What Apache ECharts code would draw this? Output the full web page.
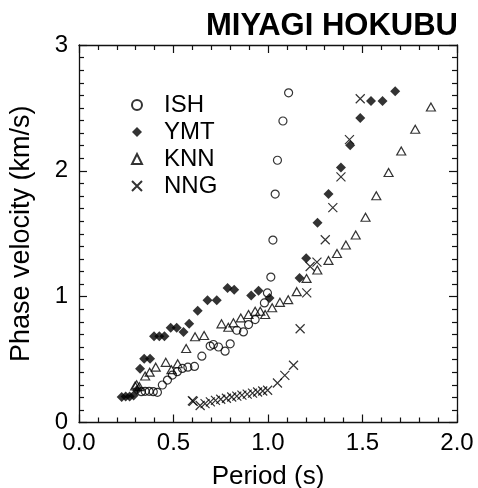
<!DOCTYPE html>
<html>
<head>
<meta charset="utf-8">
<script src="https://cdn.jsdelivr.net/npm/echarts@6/dist/echarts.min.js"></script>
<style>
  html, body { margin: 0; padding: 0; background: #fff; }
  #chart { width: 478px; height: 488px; }
</style>
</head>
<body>
<div id="chart"></div>
<script>
// Phase velocity dispersion curves, [period (s), velocity (km/s)]
const ISH = [
  [0.330,0.245],[0.350,0.248],[0.371,0.248],[0.393,0.245],[0.415,0.240],
  [0.441,0.298],[0.468,0.337],[0.494,0.377],[0.520,0.404],[0.547,0.430],
  [0.576,0.440],[0.611,0.446],[0.650,0.527],[0.694,0.607],[0.711,0.620],
  [0.738,0.600],[0.773,0.567],[0.800,0.625],[0.835,0.733],[0.870,0.720],
  [0.897,0.778],[0.932,0.818],[0.981,0.950],[0.997,1.030],[1.015,1.156],
  [1.026,1.450],[1.038,1.815],[1.050,2.084],[1.079,2.396],[1.109,2.620]
];
const YMT = [
  [0.226,0.203],[0.247,0.206],[0.268,0.206],[0.289,0.215],[0.307,0.258],
  [0.323,0.427],[0.345,0.507],[0.376,0.507],[0.397,0.686],[0.425,0.686],
  [0.452,0.686],[0.485,0.752],[0.517,0.752],[0.553,0.720],[0.583,0.784],
  [0.628,0.889],[0.680,0.971],[0.729,0.971],[0.786,1.069],[0.821,1.055],
  [0.911,1.010],[0.950,1.047],[1.008,0.990],[1.167,1.148],[1.202,1.306],
  [1.262,1.588],[1.320,1.815],[1.386,2.026],[1.435,2.203],[1.488,2.420],
  [1.545,2.554],[1.606,2.554],[1.673,2.633]
];
const KNN = [
  [0.297,0.290],[0.305,0.300],[0.320,0.285],[0.350,0.370],[0.374,0.400],
  [0.406,0.440],[0.459,0.478],[0.489,0.420],[0.522,0.467],[0.567,0.588],
  [0.614,0.681],[0.662,0.691],[0.754,0.784],[0.790,0.757],[0.817,0.792],
  [0.856,0.831],[0.897,0.858],[0.932,0.884],[0.959,0.884],[0.985,0.858],
  [1.022,0.912],[1.063,0.955],[1.107,0.976],[1.152,1.040],[1.204,1.145],
  [1.261,1.212],[1.320,1.288],[1.365,1.343],[1.412,1.411],[1.464,1.490],
  [1.516,1.631],[1.573,1.802],[1.638,1.987],[1.705,2.158],[1.779,2.330],
  [1.862,2.507]
];
const NNG = [
  [0.600,0.173],[0.605,0.168],[0.641,0.135],[0.667,0.150],[0.695,0.164],
  [0.722,0.176],[0.750,0.185],[0.780,0.193],[0.808,0.203],[0.835,0.210],
  [0.862,0.218],[0.890,0.226],[0.918,0.234],[0.945,0.242],[0.972,0.250],
  [0.998,0.256],[1.050,0.314],[1.089,0.375],[1.135,0.455],[1.170,0.745],
  [1.205,1.030],[1.223,1.240],[1.259,1.275],[1.303,1.452],[1.343,1.708],
  [1.386,1.952],[1.431,2.248],[1.488,2.573]
];
const xTicks = { min: 0, max: 2, step: 0.5 };
const yTicks = { min: 0, max: 3, step: 1 };

const FONT = 'Liberation Sans, Arial, sans-serif';
const INK = '#000';

function frameAxis(range, pos, showLabel, minorSplit, extra) {
  return Object.assign({
    type: 'value',
    position: pos,
    min: range.min, max: range.max, interval: range.step,
    axisLine: { show: true, onZero: false, lineStyle: { color: '#111', width: 1.3 } },
    axisTick: { show: true, inside: true, length: 8, lineStyle: { color: '#111', width: 1.2 } },
    minorTick: { show: true, splitNumber: minorSplit, length: 5, lineStyle: { color: '#111', width: 1.2 } },
    splitLine: { show: false },
    minorSplitLine: { show: false },
    axisLabel: { show: showLabel, color: INK, fontFamily: FONT, fontSize: 24 }
  }, extra || {});
}

const chart = echarts.init(document.getElementById('chart'), null, { renderer: 'canvas' });

const open = { color: 'rgba(0,0,0,0)', borderColor: INK, borderWidth: 1.2 };

chart.setOption({
  animation: false,
  backgroundColor: '#fff',
  title: {
    text: 'MIYAGI HOKUBU',
    right: 20, top: 11, padding: 0,
    textStyle: { fontFamily: FONT, fontSize: 31, fontWeight: 'bold', color: INK }
  },
  grid: { left: 79, right: 21, top: 45, bottom: 65.5, containLabel: false,
    outerBoundsMode: 'none' },
  legend: {
    orient: 'vertical',
    left: 131, top: 93, padding: 0,
    itemWidth: 10, itemHeight: 10, itemGap: 3,
    selectedMode: false,
    symbolKeepAspect: true,
    textStyle: { fontFamily: FONT, fontSize: 24, color: INK, lineHeight: 24,
      padding: [0, 0, 0, 17] },
    data: ['ISH', 'YMT', 'KNN', 'NNG']
  },
  xAxis: [
    frameAxis(xTicks, 'bottom', true, 5, {
      name: 'Period (s)', nameLocation: 'middle', nameGap: 41,
      nameTextStyle: { fontFamily: FONT, fontSize: 26, color: INK },
      axisLabel: { show: true, margin: 9, color: INK, fontFamily: FONT, fontSize: 24,
        formatter: v => v.toFixed(1) }
    }),
    frameAxis(xTicks, 'top', false, 5)
  ],
  yAxis: [
    frameAxis(yTicks, 'left', true, 10, {
      name: 'Phase velocity (km/s)', nameLocation: 'middle', nameGap: 44,
      nameTextStyle: { fontFamily: FONT, fontSize: 27, color: INK },
      axisLabel: { show: true, margin: 11, color: INK, fontFamily: FONT, fontSize: 24,
        formatter: v => String(v) }
    }),
    frameAxis(yTicks, 'right', false, 10)
  ],
  series: [
    { name: 'ISH', type: 'scatter', data: ISH, symbol: 'circle', symbolSize: 8,
      itemStyle: open, emphasis: { disabled: true } },
    { name: 'YMT', type: 'scatter', data: YMT, symbol: 'diamond', symbolSize: 10,
      itemStyle: { color: INK }, emphasis: { disabled: true } },
    { name: 'KNN', type: 'scatter', data: KNN, symbol: 'triangle', symbolSize: [9, 8],
      itemStyle: open, emphasis: { disabled: true } },
    { name: 'NNG', type: 'scatter', data: NNG, symbol: 'path://M0,0L10,10M10,0L0,10',
      symbolSize: 9, itemStyle: open, emphasis: { disabled: true } }
  ]
});
</script>
</body>
</html>
